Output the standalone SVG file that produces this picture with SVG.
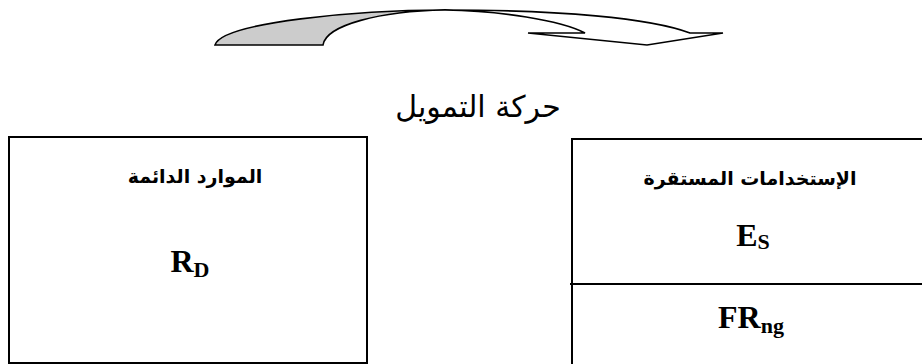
<svg xmlns="http://www.w3.org/2000/svg" width="922" height="364" viewBox="0 0 922 364">
<style>
.box{fill:#fff;stroke:#000;stroke-width:2}
.ar{font-family:"DejaVu Sans","Noto Sans",sans-serif;font-weight:bold;font-size:19px;fill:#000}
.title{font-family:"DejaVu Sans","Noto Sans",sans-serif;font-size:30px;fill:#000}
.lat{font-family:"Liberation Serif",serif;font-weight:bold;font-size:32px;fill:#000}
.sub{font-size:22px}
.arrow{stroke:#000;stroke-width:1.6;stroke-linejoin:miter}
</style>
<rect width="922" height="364" fill="#fff"/>
<g id="connectors">
<path class="arrow" fill="#cccccc" d="M215,45 C222,22 360,10 445,10 C380,11 326,25 323,45 Z"/>
<path class="arrow" fill="#fff" d="M445,10 C560,10 650,18 690,33 L723,33 L647,45 L528,33 L585,33 C560,20 500,11 445,10 Z"/>
</g>
<g id="label">
<text class="title" x="478" y="117" text-anchor="middle" direction="rtl">حركة التمويل</text>
</g>
<g id="node-resources">
<rect class="box" x="9" y="137" width="358" height="226"/>
<text class="ar" x="195" y="183" text-anchor="middle" direction="rtl">الموارد الدائمة</text>
<text class="lat" x="190" y="272" text-anchor="middle">R<tspan class="sub" dy="5">D</tspan></text>
</g>
<g id="node-uses">
<rect class="box" x="572" y="139" width="360" height="235"/>
<line x1="570" y1="284" x2="922" y2="284" stroke="#000" stroke-width="2"/>
<text class="ar" x="750" y="185" text-anchor="middle" direction="rtl">الإستخدامات المستقرة</text>
<text class="lat" x="753" y="246" text-anchor="middle">E<tspan class="sub" dy="3">S</tspan></text>
<text class="lat" x="751" y="328" text-anchor="middle">FR<tspan class="sub" dy="5">ng</tspan></text>
</g>
</svg>
